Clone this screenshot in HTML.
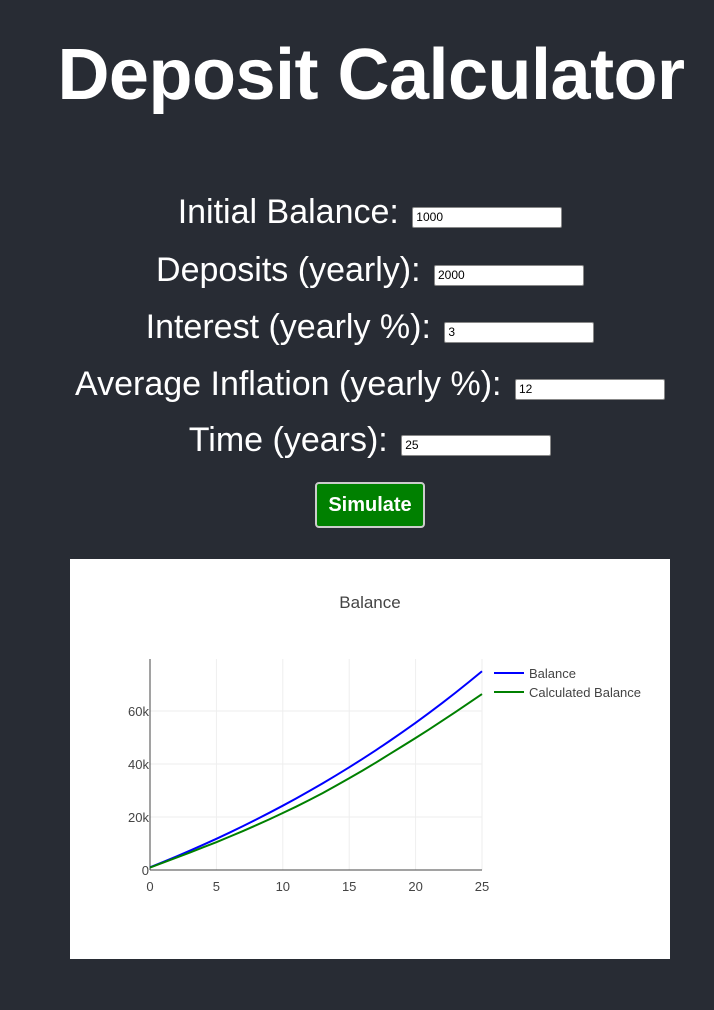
<!DOCTYPE html>
<html><head><meta charset="utf-8"><style>
body{margin:0;width:714px;height:1010px;background:#282c34;overflow:hidden;font-family:"Liberation Sans",sans-serif;color:#fff;position:relative}
h1{position:absolute;left:0;width:742px;top:34px;margin:0;text-align:center;font-size:72px;font-weight:bold;letter-spacing:-0.5px}
.row{position:absolute;left:0;width:740px;text-align:center;font-size:34px;height:40px;line-height:40px;white-space:nowrap}
.row input{width:142px;height:17px;font-size:12px;padding:1px 3px;border:1px solid #888;border-radius:2px;vertical-align:middle;margin-left:4px;position:relative;top:3px;font-family:"Liberation Sans",sans-serif;color:#000}
#sim{position:absolute;left:315px;top:482px;width:110px;height:46px;background:#008000;border:2px solid #ccc;border-radius:4px;color:#fff;font-weight:bold;font-size:20px;box-sizing:border-box;font-family:"Liberation Sans",sans-serif}
#chart{position:absolute;left:70px;top:559px;width:600px;height:400px;background:#fff}
</style></head><body>
<h1>Deposit Calculator</h1>
<div class="row" style="top:192px">Initial Balance: <input value="1000"></div>
<div class="row" style="top:250px">Deposits (yearly): <input value="2000"></div>
<div class="row" style="top:307px">Interest (yearly %): <input value="3"></div>
<div class="row" style="top:364px">Average Inflation (yearly %): <input value="12"></div>
<div class="row" style="top:420px">Time (years): <input value="25"></div>
<button id="sim">Simulate</button>
<div id="chart">
<svg id="svg" width="600" height="400" xmlns="http://www.w3.org/2000/svg" font-family="Liberation Sans, sans-serif"></svg>
</div>
<script>
const years=[0,1,2,3,4,5,6,7,8,9,10,11,12,13,14,15,16,17,18,19,20,21,22,23,24,25];
const balance=[1000,3030,5121,7275,9493,11778,14131,16555,19052,21623,24272,27000,29810,32704,35686,38756,41919,45176,48532,51988,55547,59214,62990,66880,70886,75013];
const calculated=[900,2800,4700,6600,8550,10500,12600,14700,16900,19150,21500,23900,26400,29000,31800,34600,37500,40500,43600,46700,49800,53000,56300,59600,63000,66400];
const xTicks=[0,5,10,15,20,25];
const yTicks=[0,20000,40000,60000];
const yTickLabels=["0","20k","40k","60k"];
const ox=70,oy=559;
const X=v=>150-ox+(v/25)*332;
const Y=v=>870-oy-(v/20000)*53;
const svg=document.getElementById('svg');
const NS='http://www.w3.org/2000/svg';
function mk(t,a,txt){const e=document.createElementNS(NS,t);for(const k in a)e.setAttribute(k,a[k]);if(txt!==undefined)e.textContent=txt;svg.appendChild(e);return e;}
let e=mk('text',{x:300,y:49,'text-anchor':'middle','font-size':17,fill:'#444'},'Balance');


xTicks.forEach(t=>{
 if(t>0){const g=mk('line',{x1:X(t),x2:X(t),y1:Y(0),y2:100,stroke:'#eee'});
 
 }
 const l=mk('text',{x:X(t),y:Y(0)+21,'text-anchor':'middle','font-size':13,fill:'#444'},String(t));
 
 
});
yTicks.forEach((t,i)=>{
 if(t>0){const g=mk('line',{x1:X(0),x2:X(25),y1:Y(t),y2:Y(t),stroke:'#eee'});
 
 }
 const l=mk('text',{x:X(0)-1,y:Y(t)+5,'text-anchor':'end','font-size':13,fill:'#444'},yTickLabels[i]);
 
 
});
let ax=mk('line',{x1:X(0),x2:X(0),y1:100,y2:Y(0),stroke:'#444'});


ax=mk('line',{x1:X(0),x2:X(25),y1:Y(0),y2:Y(0),stroke:'#444'});


function line(data,color,name){
 const p=mk('polyline',{points:years.map((y,i)=>X(y)+','+Y(data[i])).join(' '),fill:'none',stroke:color,'stroke-width':2});
 
 
}
line(balance,'#0000ff','balance-line');
line(calculated,'#008000','calculated-balance-line');
[['Balance','#0000ff',114],['Calculated Balance','#008000',133]].forEach(([n,c,y])=>{
 const l=mk('line',{x1:424,x2:454,y1:y,y2:y,stroke:c,'stroke-width':2});
 
 
 const t=mk('text',{x:459,y:y+5,'font-size':13,fill:'#444'},n);
 
 
});
</script>
</body></html>
